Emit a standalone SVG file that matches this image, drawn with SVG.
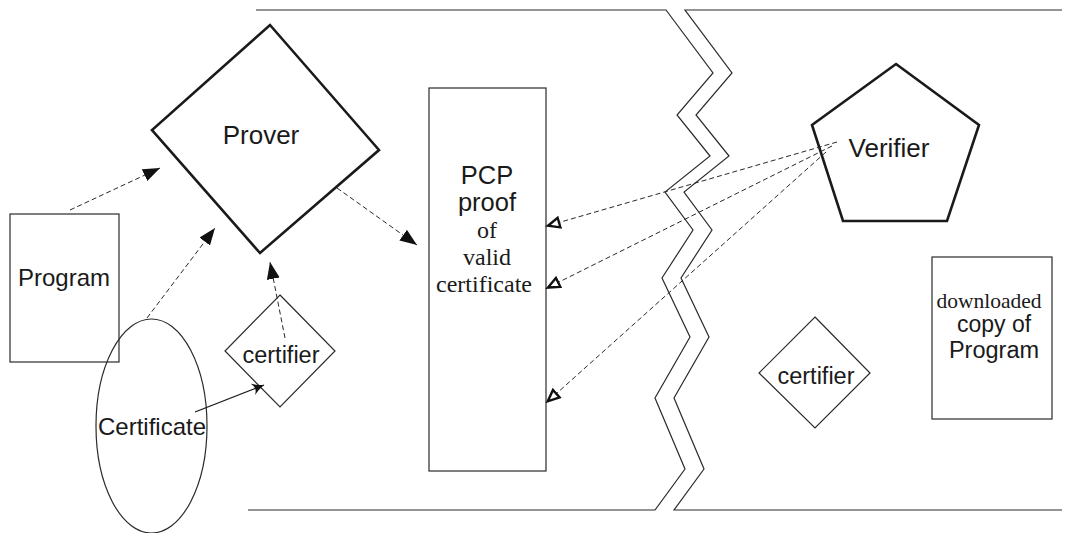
<svg xmlns="http://www.w3.org/2000/svg" width="1070" height="533" viewBox="0 0 1070 533">
<style>
.thin{fill:none;stroke:#2a2a2a;stroke-width:1.2}
.box{fill:#fff;stroke:#2a2a2a;stroke-width:1.2}
.heavy{fill:#fff;stroke:#1a1a1a;stroke-width:2.6;stroke-linejoin:miter}
.dash{fill:none;stroke:#2a2a2a;stroke-width:1;stroke-dasharray:5,3}
.solid{fill:none;stroke:#1a1a1a;stroke-width:1.3}
.sans{font-family:"Liberation Sans",Arial,sans-serif;fill:#1a1a1a}
.serif{font-family:"Liberation Serif","Times New Roman",serif;fill:#1a1a1a}
</style>
<defs>
<marker id="fill" markerUnits="userSpaceOnUse" markerWidth="18" markerHeight="14" refX="17" refY="6.5" orient="auto">
<path d="M0,0 L17,6.5 L0,13 z" fill="#111"/>
</marker>
<marker id="open" markerUnits="userSpaceOnUse" markerWidth="16" markerHeight="14" refX="14" refY="6.5" orient="auto">
<path d="M1.5,1.5 L13,6.5 L1.5,11.5 z" fill="#fff" stroke="#111" stroke-width="2.4"/>
</marker>
<marker id="barb" markerUnits="userSpaceOnUse" markerWidth="14" markerHeight="12" refX="12" refY="6" orient="auto">
<path d="M0,0 Q6,4 12,6 Q6,8 0,12 Q5,6 0,0 z" fill="#111"/>
</marker>
</defs>
<rect width="1070" height="533" fill="#fff"/>

<g id="boundary">
<polyline class="thin" points="256,10 666,10 713,73 677,115 710,156 665,192 693,230 662,278 690,337 655,398 685,469 655,510 248,510"/>
<polyline class="thin" points="1062,10 685,10 732,73 696,115 729,156 684,192 712,230 681,278 709,337 674,398 704,469 674,510 1062,510"/>
</g>

<g id="program">
<rect class="box" x="10" y="214" width="109" height="148"/>
<text class="sans" x="64" y="286" font-size="24" text-anchor="middle">Program</text>
</g>

<g id="certificate">
<ellipse class="thin" cx="151.5" cy="426" rx="55.5" ry="107"/>
<text class="sans" x="152" y="435" font-size="24" text-anchor="middle">Certificate</text>
</g>

<g id="prover">
<polygon class="heavy" points="270,25 379,150 260,253 152,130"/>
<text class="sans" x="261" y="144" font-size="26" text-anchor="middle">Prover</text>
</g>

<g id="certifier-left">
<polygon class="box" points="280,295 335,351 280,407 225,351"/>
<text class="sans" x="281" y="363" font-size="23.5" text-anchor="middle">certifier</text>
</g>

<g id="pcp">
<rect class="box" x="429" y="88" width="117" height="383"/>
<text class="sans" x="487" y="184" font-size="25.5" text-anchor="middle">PCP</text>
<text class="sans" x="487" y="211" font-size="25.5" text-anchor="middle">proof</text>
<text class="serif" x="487" y="238" font-size="24" text-anchor="middle">of</text>
<text class="serif" x="487" y="265" font-size="24" text-anchor="middle">valid</text>
<text class="serif" x="484" y="292" font-size="24" text-anchor="middle">certificate</text>
</g>

<g id="verifier">
<polygon class="heavy" points="896,64 979,125 947,221 843,221 812,125"/>
<text class="sans" x="889" y="157" font-size="26" text-anchor="middle">Verifier</text>
</g>

<g id="certifier-right">
<polygon class="box" points="815,317 870,373 815,428 759,373"/>
<text class="sans" x="816" y="384" font-size="23.5" text-anchor="middle">certifier</text>
</g>

<g id="download">
<rect class="box" x="932" y="257" width="120" height="162"/>
<text class="serif" x="989" y="308" font-size="21.5" text-anchor="middle">downloaded</text>
<text class="sans" x="994" y="332" font-size="23" text-anchor="middle">copy of</text>
<text class="sans" x="994" y="358" font-size="23.5" text-anchor="middle">Program</text>
</g>

<g id="connectors">
<line class="dash" x1="70" y1="210" x2="160" y2="168" marker-end="url(#fill)"/>
<line class="dash" x1="147" y1="318" x2="215" y2="228" marker-end="url(#fill)"/>
<line class="dash" x1="285" y1="338" x2="270" y2="262" marker-end="url(#fill)"/>
<line class="dash" x1="337" y1="188" x2="417" y2="245" marker-end="url(#fill)"/>
<line class="solid" x1="195" y1="412" x2="264" y2="385" marker-end="url(#barb)"/>
<line class="dash" x1="837" y1="142" x2="547" y2="226" marker-end="url(#open)"/>
<line class="dash" x1="832" y1="146" x2="547" y2="288" marker-end="url(#open)"/>
<line class="dash" x1="826" y1="152" x2="547" y2="402" marker-end="url(#open)"/>
</g>
</svg>
